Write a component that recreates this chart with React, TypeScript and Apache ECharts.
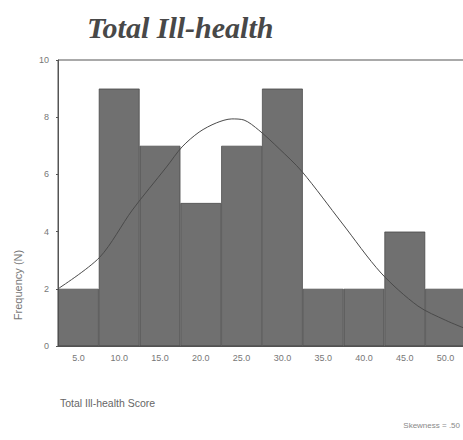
import React, { useEffect, useRef } from "react";
import * as echarts from "echarts";

const categories = ["5.0", "10.0", "15.0", "20.0", "25.0", "30.0", "35.0", "40.0", "45.0", "50.0"];
const frequencies = [2, 9, 7, 5, 7, 9, 2, 2, 4, 2];
// normal curve: [score, frequency]
const curveX = [2.5, 7.6, 11.6, 15.8, 17.7, 19.8, 21.9, 23.8, 25.3, 27.1, 29.6, 32.4, 37.3, 42.1, 46.6, 50.0, 52.5];
const curveY = [2.0, 3.1, 4.75, 6.26, 6.96, 7.48, 7.8, 7.94, 7.9, 7.55, 6.9, 6.1, 4.3, 2.55, 1.4, 0.9, 0.6];
const yTicks = [0, 2, 4, 6, 8, 10];

export default function App() {
  const ref = useRef<HTMLDivElement>(null);
  useEffect(() => {
    if (!ref.current) return;
    const chart = echarts.init(ref.current, null, { renderer: "svg" });
    chart.setOption({
      animation: false,
      backgroundColor: "#ffffff",
      title: {
        text: "Total Ill-health",
        left: 82,
        top: 7,
        textStyle: {
          fontFamily: "Liberation Serif",
          fontStyle: "italic",
          fontWeight: "bold",
          fontSize: 30,
          color: "#484848",
        },
      },
      grid: {
        left: 58,
        top: 60,
        right: 4,
        bottom: 94,
        show: true,
        borderColor: "#555",
        borderWidth: 1,
      },
      xAxis: [
        {
          type: "category",
          data: categories,
          boundaryGap: true,
          axisLine: { lineStyle: { color: "#555" } },
          axisTick: { alignWithLabel: true, length: 2, lineStyle: { color: "#555" } },
          axisLabel: { color: "#777", fontSize: 9, fontFamily: "Liberation Sans", margin: 7 },
        },
        {
          type: "value",
          min: 2.5,
          max: 52.5,
          show: false,
        },
      ],
      yAxis: {
        type: "value",
        min: yTicks[0],
        max: yTicks[yTicks.length - 1],
        interval: 2,
        splitLine: { show: false },
        axisLine: { show: true, lineStyle: { color: "#555" } },
        axisTick: { show: true, length: 2, lineStyle: { color: "#555" } },
        axisLabel: { color: "#777", fontSize: 9, fontFamily: "Liberation Sans", margin: 9 },
      },
      graphic: [
        {
          type: "text",
          x: 18,
          y: 285,
          rotation: Math.PI / 2,
          style: {
            text: "Frequency (N)",
            fill: "#777",
            font: "11px 'Liberation Sans'",
            align: "center",
            verticalAlign: "middle",
          },
        },
        {
          type: "text",
          x: 60,
          y: 403,
          style: {
            text: "Total Ill-health Score",
            fill: "#666",
            font: "10.5px 'Liberation Sans'",
            verticalAlign: "middle",
          },
        },
        {
          type: "text",
          x: 460,
          y: 425,
          style: {
            text: "Skewness = .50",
            fill: "#888",
            font: "8px 'Liberation Sans'",
            align: "right",
            verticalAlign: "middle",
          },
        },
      ],
      series: [
        {
          type: "bar",
          data: frequencies,
          xAxisIndex: 0,
          barCategoryGap: "0%",
          itemStyle: { color: "#707070", borderColor: "#404040", borderWidth: 0.7 },
          z: 2,
        },
        {
          type: "line",
          xAxisIndex: 1,
          data: curveX.map((x, i) => [x, curveY[i]]),
          smooth: 0.3,
          showSymbol: false,
          lineStyle: { color: "#4a4a4a", width: 1 },
          z: 3,
        },
      ],
    });
    return () => chart.dispose();
  }, []);
  return (
    <div
      ref={ref}
      style={{ position: "fixed", left: 0, top: 0, width: 470, height: 440 }}
    />
  );
}
